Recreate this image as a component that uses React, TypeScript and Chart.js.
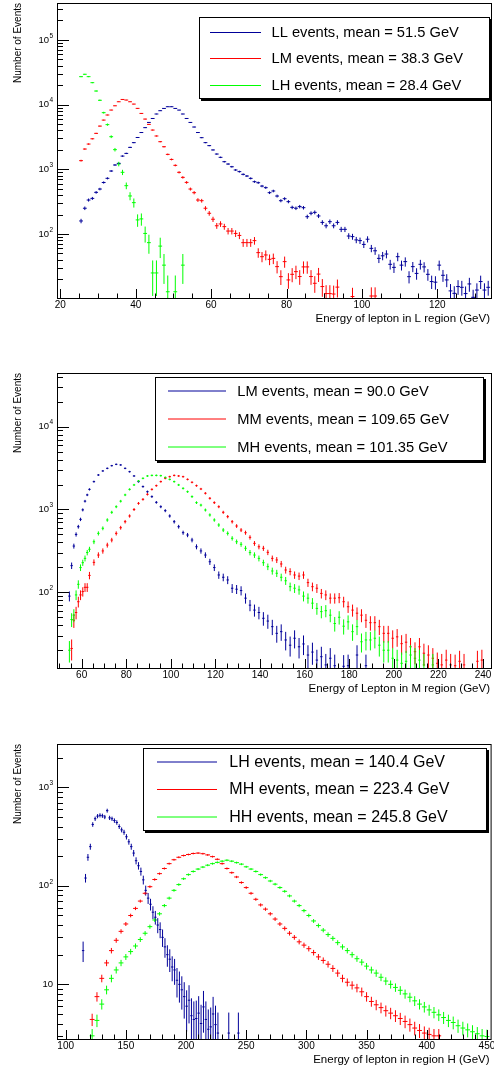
import React, { useEffect, useRef } from "react";
import { Chart, registerables } from "chart.js";
Chart.register(...registerables);

const FONT = '"Liberation Sans", Arial, Helvetica, sans-serif';
const BLUE = "rgb(0,0,153)";
const RED = "rgb(255,0,0)";
const GREEN = "rgb(0,255,0)";

// ---------- Panel 1 : lepton in L region (1 GeV bins) ----------
const p1Bins = [25.5,26.5,27.5,28.5,29.5,30.5,31.5,32.5,33.5,34.5,35.5,36.5,37.5,38.5,39.5,40.5,41.5,42.5,43.5,44.5,45.5,46.5,47.5,48.5,49.5,50.5,51.5,52.5,53.5,54.5,55.5,56.5,57.5,58.5,59.5,60.5,61.5,62.5,63.5,64.5,65.5,66.5,67.5,68.5,69.5,70.5,71.5,72.5,73.5,74.5,75.5,76.5,77.5,78.5,79.5,80.5,81.5,82.5,83.5,84.5,85.5,86.5,87.5,88.5,89.5,90.5,91.5,92.5,93.5,94.5,95.5,96.5,97.5,98.5,99.5,100.5,101.5,102.5,103.5,104.5,105.5,106.5,107.5,108.5,109.5,110.5,111.5,112.5,113.5,114.5,115.5,116.5,117.5,118.5,119.5,120.5,121.5,122.5,123.5,124.5,125.5,126.5,127.5,128.5,129.5,130.5,131.5,132.5,133.5];
const p1LL = [159,250,335,355,440,495,625,725,940,1165,1235,1600,1760,2180,2580,3100,3700,4400,5300,6100,7150,8040,8720,9260,9260,8720,8220,7150,6100,5300,4500,3700,3080,2580,2320,1990,1720,1530,1310,1205,1095,975,920,835,787,724,643,620,550,520,435,462,386,327,351,316,258,250,265,255,185,209,216,190,151,134,155,134,151,118,118,93,91,81,79,69,83,60,55,42,46,49,34,30.5,44.6,33,37.4,21.9,31.3,24.6,34,31,23.8,18.4,18,33,23,19.5,13.2,12.1,15.4,15,12,16.9,10.5,13.6,18.4,13.6,15];
const p1LM = [1360,2055,2455,2960,3590,4650,5760,6900,8230,9580,11060,12000,11750,11060,10180,8740,7300,5970,4940,4040,3270,2670,2230,1700,1420,1150,897,750,627,495,435,335,327,250,209,169,134,143,130,111,111,102,95,73.5,73.5,73.5,79,51.5,44.6,47.4,40.6,42,31.3,21.9,37.4,19.5,23.8,26.2,22,31,31,22,17.3,24,15.4,12,12,11.8,15.1,null,null,null,10.8,null,null,null,null,11,11];
const p1LH = [27000,29400,27000,21800,16200,11650,7500,4900,3190,2010,1208,898,558,387,305,165,171,102,73.5,25,25,65,33,12.8,null,12.8,null,33];

// ---------- Panel 2 : lepton in M region ----------
const p2Bins = [54.5,55.5,56.5,57.5,58.5,59.5,60.5,61.5,62.5,63.5,65.5,67.5,69.5,71.5,73.5,75.5,77.5,79.5,81.5,83.5,85.5,87.5,89.5,91.5,93.5,95.5,97.5,99.5,101.5,103.5,105.5,107.5,109.5,111.5,113.5,115.5,117.5,119.5,121.5,123.5,125.5,127.5,129.5,131.5,133.5,135.5,137.5,139.5,141.5,143.5,145.5,147.5,149.5,151.5,153.5,155.5,157.5,159.5,161.5,163.5,165.5,167.5,169.5,171.5,173.5,175.5,177.5,179.5,181.5,183.5,185.5,187.5,189.5,191.5,193.5,195.5,197.5,199.5,201.5,203.5,205.5,207.5,209.5,211.5,213.5,215.5,217.5,219.5,221.5,223.5,225.5,227.5,229.5,231.5,233.5,235.5,237.5,239.5,241.5];
const p2LM = [90,210,362,500,620,760,990,1260,1500,1750,2170,2610,2920,3140,3380,3510,3450,3140,2860,2540,2170,1890,1640,1430,1220,1080,968,835,712,620,525,492,428,355,316,282,234,199,162,152,141,112,109,105,85,70,61,57,48.6,45,38.5,32,33.5,26.6,23,27.9,22,23.8,17.5,19,15.2,16.7,13.3,16,13,null,12.8,13,null,17.5,null,13];
const p2MM = [null,21,46,57,77,93,102,115,115,160,230,282,316,372,428,515,603,713,835,1000,1186,1326,1525,1750,1940,2170,2380,2490,2580,2540,2490,2310,2130,1940,1770,1570,1365,1210,1080,925,820,712,632,565,525,461,390,355,340,304,257,246,220,186,178,162,157,162,131,117,112,97,93,85,85,86,77,67,61,56,53,46,43,43,38.5,32,32,27.9,29,24,25,22,19.2,22,18.4,17.5,16,13.9,13.3,15.2,13.3,13,14.7,13.3,null,null,14.7,15.2];
const p2MH = [20,47,53,93,125,199,228,257,302,331,408,515,593,747,925,1080,1260,1500,1750,1980,2210,2380,2540,2580,2580,2560,2440,2310,2170,1980,1800,1640,1430,1210,1130,986,859,747,650,565,515,449,408,380,340,302,282,257,228,204,181,170,152,138,117,112,107,90,85,74,64,58.5,60,53,42,50,39,44,33.5,38.5,25.3,26.6,26.6,27.9,23,20,20,16,15.2,13.9,14.7,17.5,16,15.2,13.3,null,13.3];

// ---------- Panel 3 : lepton in region H ----------
const p3BinsLH = [114.5,116.5,118.5,120.5,122.5,124.5,126.5,128.5,130.5,132.5,134.5,136.5,138.5,140.5,142.5,144.5,146.5,148.5,150.5,152.5,154.5,156.5,158.5,160.5,162.5,164.5,166.5,168.5,170.5,172.5,174.5,176.5,178.5,180.5,182.5,184.5,186.5,188.5,190.5,192.5,194.5,196.5,198.5,200.5,202.5,204.5,206.5,208.5,210.5,212.5,214.5,216.5,218.5,220.5,222.5,224.5,226.5,235.5,243.5];
const p3LH = [22,120,195,250,420,480,510,520,515,500,580,490,480,460,440,400,370,350,315,280,250,215,180,160,140,115,90,75,65,54,48,40,36,30,24,20,18,15,14,11,10,8.8,7.5,6,6.9,4.8,4.4,4.5,5.1,4,5.9,4.4,3.5,3.7,5,3.9,3.2,3.2,3.2];
const p3Bins = [122,126,130,134,138,142,146,150,154,158,162,166,170,174,178,182,186,190,194,198,202,206,210,214,218,222,226,230,234,238,242,246,250,254,258,262,266,270,274,278,282,286,290,294,298,302,306,310,314,318,322,326,330,334,338,342,346,350,354,358,362,366,370,374,378,382,386,390,394,398,402,406,410,414,418,422,426,430,434,438,442,446,450];
const p3MH = [4.4,7.5,11.5,16.5,22,28,34.5,41,50,59,70,84,98,116,133,150,168,184,195,203,208,213,215,212,206,198,186,168,150,136,123,108,96,84,73,64,58,52,46,41,37,33,30,27,25,23,21,19,17.5,16,14.5,13,11.5,10.5,9.8,9.2,8.4,7.5,6.7,6.2,5.8,5.4,5.1,4.8,4.5,4.2,3.9,3.6,3.4,3.2,3.1,3.0,3.0];
const p3HH = [3.0,4.3,6.3,8.8,11.5,14,16.5,19,21.5,24.5,28.5,33,38.5,45,52,63,75,90,103,118,130,140,148,155,162,168,173,178,182,178,172,166,156,148,140,130,121,112,104,96,88,79,70,63,56,50,44,39.5,35.5,32,29.3,26.5,24,22,20,18.2,16.8,15.3,14,13,11.8,10.8,10,9.3,8.7,8,7.4,6.8,6.3,5.9,5.5,5.2,4.9,4.6,4.3,4.1,3.8,3.6,3.45,3.3,3.15,3.0,2.95];

type Series = { label: string; color: string; xs: number[]; ys: (number | null)[]; r: number; err: number };
type Panel = {
  id: string;
  top: number;
  height: number;
  area: [number, number, number, number];
  x: [number, number];
  y: [number, number];
  xMajor: number;
  xMinor: number;
  xTitle: string;
  series: Series[];
  legend: {
    box: [number, number, number, number];
    line: [number, number];
    textX: number;
    rows: number[];
    soft: boolean[];
    font: number;
  };
};

const PANELS: Panel[] = [
  {
    id: "L",
    top: 0,
    height: 335,
    area: [57, 3, 491, 298],
    x: [19.12, 134.24],
    y: [10.25, 371500],
    xMajor: 20,
    xMinor: 5,
    xTitle: "Energy of lepton in L region (GeV)",
    series: [
      { label: "LL events, mean = 51.5 GeV", color: BLUE, xs: p1Bins, ys: p1LL, r: 1.9, err: 1.0 },
      { label: "LM events, mean = 38.3 GeV", color: RED, xs: p1Bins, ys: p1LM, r: 1.9, err: 1.2 },
      { label: "LH events, mean = 28.4 GeV", color: GREEN, xs: p1Bins, ys: p1LH, r: 1.9, err: 2.8 },
    ],
    legend: { box: [199, 17, 489, 98], line: [210, 261], textX: 271.5, rows: [32, 58, 85], soft: [false, false, false], font: 14.7 },
  },
  {
    id: "M",
    top: 335,
    height: 370,
    area: [57, 373, 491, 668],
    x: [48.94, 243.59],
    y: [12.2, 44460],
    xMajor: 20,
    xMinor: 5,
    xTitle: "Energy of Lepton in M region (GeV)",
    series: [
      { label: "LM events, mean = 90.0 GeV", color: BLUE, xs: p2Bins, ys: p2LM, r: 1.2, err: 1.3 },
      { label: "MM events, mean = 109.65 GeV", color: RED, xs: p2Bins, ys: p2MM, r: 1.2, err: 1.3 },
      { label: "MH events, mean = 101.35 GeV", color: GREEN, xs: p2Bins, ys: p2MH, r: 1.2, err: 1.3 },
    ],
    legend: { box: [155, 377, 483, 460], line: [168, 226], textX: 237.3, rows: [391, 419, 447], soft: [true, true, true], font: 14.7 },
  },
  {
    id: "H",
    top: 705,
    height: 362,
    area: [57, 744, 491, 1039],
    x: [92.8, 453.05],
    y: [2.786, 2754],
    xMajor: 50,
    xMinor: 10,
    xTitle: "Energy of lepton in region H (GeV)",
    series: [
      { label: "LH events, mean = 140.4 GeV", color: BLUE, xs: p3BinsLH, ys: p3LH, r: 1.2, err: 1.1 },
      { label: "MH events, mean = 223.4 GeV", color: RED, xs: p3Bins, ys: p3MH, r: 2.4, err: 0.3 },
      { label: "HH events, mean = 245.8 GeV", color: GREEN, xs: p3Bins, ys: p3HH, r: 2.4, err: 0.3 },
    ],
    legend: { box: [143, 748, 486, 830], line: [157, 217], textX: 229.3, rows: [762, 789, 817], soft: [true, false, true], font: 16 },
  },
];

const errorBars = {
  id: "errorBars",
  afterDatasetsDraw(chart: any) {
    const { ctx, chartArea } = chart;
    const xs = chart.scales.x;
    const ys = chart.scales.y;
    ctx.save();
    ctx.beginPath();
    ctx.rect(chartArea.left, chartArea.top, chartArea.right - chartArea.left, chartArea.bottom - chartArea.top);
    ctx.clip();
    ctx.lineWidth = 1;
    chart.data.datasets.forEach((ds: any) => {
      const k = ds.errScale || 1;
      ctx.strokeStyle = ds.borderColor;
      ctx.beginPath();
      ds.data.forEach((pt: any) => {
        const px = xs.getPixelForValue(pt.x);
        const e = k * Math.sqrt(pt.y);
        const hi = ys.getPixelForValue(pt.y + e);
        const lo = pt.y - e > 0 ? ys.getPixelForValue(pt.y - e) : chartArea.bottom + 2;
        ctx.moveTo(px, hi);
        ctx.lineTo(px, lo);
      });
      ctx.stroke();
    });
    ctx.restore();
  },
};

function decor(p: Panel) {
  return {
    id: "decor" + p.id,
    afterDraw(chart: any) {
      const ctx: CanvasRenderingContext2D = chart.ctx;
      const { left, top, right, bottom } = chart.chartArea;
      const xs = chart.scales.x;
      const ys = chart.scales.y;
      ctx.save();
      ctx.strokeStyle = "#000";
      ctx.fillStyle = "#000";
      ctx.lineWidth = 1;
      ctx.strokeRect(left + 0.5, top + 0.5, right - left, bottom - top);

      // y ticks (log)
      const dMin = Math.floor(Math.log10(p.y[0]));
      const dMax = Math.ceil(Math.log10(p.y[1]));
      ctx.beginPath();
      for (let d = dMin; d <= dMax; d++) {
        for (let m = 1; m <= 9; m++) {
          const v = m * Math.pow(10, d);
          if (v < p.y[0] || v > p.y[1]) continue;
          const py = Math.round(ys.getPixelForValue(v)) + 0.5;
          ctx.moveTo(left, py);
          ctx.lineTo(left + (m === 1 ? 12 : 6), py);
        }
      }
      ctx.stroke();
      ctx.textBaseline = "middle";
      for (let d = dMin; d <= dMax; d++) {
        const v = Math.pow(10, d);
        if (v < p.y[0] || v > p.y[1]) continue;
        const py = ys.getPixelForValue(v);
        if (d === 1) {
          ctx.font = `9.5px ${FONT}`;
          ctx.textAlign = "right";
          ctx.fillText("10", 53, py);
        } else {
          ctx.font = `6.5px ${FONT}`;
          const ew = ctx.measureText(String(d)).width;
          ctx.textAlign = "left";
          ctx.fillText(String(d), 53 - ew, py - 4);
          ctx.font = `9.5px ${FONT}`;
          ctx.textAlign = "right";
          ctx.fillText("10", 53 - ew - 0.3, py);
        }
      }

      // x ticks
      const n0 = Math.ceil(p.x[0] / p.xMinor);
      const n1 = Math.floor(p.x[1] / p.xMinor);
      ctx.beginPath();
      const majors: number[] = [];
      for (let n = n0; n <= n1; n++) {
        const v = n * p.xMinor;
        const px = Math.round(xs.getPixelForValue(v)) + 0.5;
        const r = v / p.xMajor;
        const major = Math.abs(r - Math.round(r)) < 1e-6;
        if (major) majors.push(v);
        ctx.moveTo(px, bottom);
        ctx.lineTo(px, bottom - (major ? 9 : 4.5));
      }
      ctx.stroke();
      ctx.font = `10px ${FONT}`;
      ctx.textAlign = "center";
      majors.forEach((v) => ctx.fillText(String(v), xs.getPixelForValue(v), bottom + 7));

      // axis titles
      ctx.font = `11.5px ${FONT}`;
      ctx.textAlign = "right";
      ctx.fillText(p.xTitle, right - 1, bottom + 21);
      ctx.save();
      ctx.translate(18, top);
      ctx.rotate(-Math.PI / 2);
      ctx.font = `10px ${FONT}`;
      ctx.textAlign = "right";
      ctx.fillText("Number of Events", 0, 0);
      ctx.restore();

      // legend
      const L = p.legend;
      const bl = L.box[0];
      const bt = L.box[1] - p.top;
      const bw = L.box[2] - L.box[0];
      const bh = L.box[3] - L.box[1];
      ctx.fillStyle = "#000";
      ctx.fillRect(bl + 2, bt + 2, bw + 1, bh + 1);
      ctx.fillStyle = "#fff";
      ctx.fillRect(bl, bt, bw, bh);
      ctx.strokeStyle = "#000";
      ctx.strokeRect(bl + 0.5, bt + 0.5, bw, bh);
      p.series.forEach((s, i) => {
        const yRow = L.rows[i] - p.top;
        const yLine = L.soft[i] ? yRow : yRow + 0.5;
        ctx.strokeStyle = s.color;
        ctx.lineWidth = 1;
        ctx.beginPath();
        ctx.moveTo(L.line[0], yLine);
        ctx.lineTo(L.line[1], yLine);
        ctx.stroke();
        ctx.fillStyle = "#000";
        ctx.font = `${L.font}px ${FONT}`;
        ctx.textAlign = "left";
        ctx.textBaseline = "middle";
        ctx.fillText(s.label, L.textX, yRow + 0.5);
      });
      ctx.restore();
    },
  };
}

function PanelChart({ p }: { p: Panel }) {
  const ref = useRef<HTMLCanvasElement>(null);
  useEffect(() => {
    if (!ref.current) return;
    const datasets = p.series.map((s) => ({
      label: s.label,
      data: s.ys
        .map((v, i) => (v == null ? null : { x: s.xs[i], y: v }))
        .filter((d) => d !== null),
      errScale: s.err,
      showLine: false,
      pointStyle: "line",
      pointRadius: s.r,
      pointHoverRadius: s.r,
      pointBorderWidth: 1,
      pointBorderColor: s.color,
      pointBackgroundColor: s.color,
      borderColor: s.color,
      backgroundColor: s.color,
    }));
    const chart = new Chart(ref.current, {
      type: "scatter",
      data: { datasets } as any,
      options: {
        animation: false,
        responsive: false,
        devicePixelRatio: 1,
        events: [],
        layout: {
          padding: {
            left: p.area[0],
            top: p.area[1] - p.top,
            right: 494 - p.area[2],
            bottom: p.height - (p.area[3] - p.top),
          },
        },
        scales: {
          x: { type: "linear", min: p.x[0], max: p.x[1], display: false, bounds: "data" },
          y: { type: "logarithmic", min: p.y[0], max: p.y[1], display: false, bounds: "data" },
        },
        plugins: { legend: { display: false }, tooltip: { enabled: false }, title: { display: false } },
      } as any,
      plugins: [errorBars, decor(p)],
    });
    return () => chart.destroy();
  }, [p]);
  return (
    <canvas
      ref={ref}
      width={494}
      height={p.height}
      style={{ position: "absolute", left: 0, top: p.top, width: 494, height: p.height, display: "block" }}
    />
  );
}

export default function App() {
  return (
    <div style={{ position: "absolute", left: 0, top: 0, width: 494, height: 1067, background: "#fff", overflow: "hidden" }}>
      {PANELS.map((p) => (
        <PanelChart key={p.id} p={p} />
      ))}
    </div>
  );
}
